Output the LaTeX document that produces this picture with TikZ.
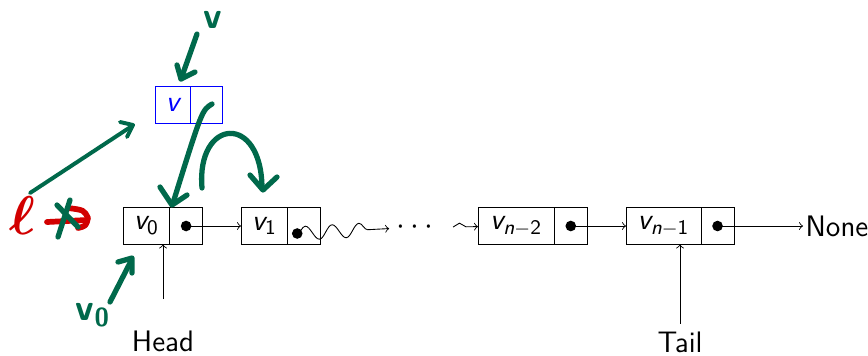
\documentclass[tikz,border=0pt]{standalone}
\usepackage{amsmath,amssymb}
\usetikzlibrary{positioning, decorations.pathmorphing}
\newcommand\cellv{\textsl{v}}
\definecolor{inkgreen}{RGB}{0,105,75}
\definecolor{inkred}{RGB}{210,0,0}
\tikzset{
  databox/.style={draw, minimum height=0.59cm, inner sep=0pt, outer sep=0pt, anchor=west},
  ptrbox/.style={draw, minimum height=0.59cm, minimum width=0.52cm, inner sep=0pt, outer sep=0pt},
  ptrdot/.style={circle, fill, inner sep=0pt, minimum size=0.17cm},
  ink/.style={draw=inkgreen, line width=2.4pt, line cap=round, line join=round},
  inklabel/.style={text=inkgreen, font=\fontsize{17}{17}\selectfont\sffamily\bfseries},
}

\begin{document}
\begin{tikzpicture}[x=0.016cm, y=-0.016cm, font=\fontsize{13.5}{16}\selectfont\sffamily]
  \useasboundingbox (0,0) rectangle (868,355);

  % the list
  \node[databox, minimum width=0.75cm] (v0) at (123,226) {$\cellv_{\textsf{0}}$};
  \node[ptrbox, right=0pt of v0] (p0) {};
  \node[ptrdot] (d0) at (p0) {};
  \node[databox, minimum width=0.75cm] (v1) at (241,226) {$\cellv_{\textsf{1}}$};
  \node[ptrbox, right=0pt of v1] (p1) {};
  \node[ptrdot] (d1) at ([xshift=-0.11cm, yshift=-0.12cm]p1.center) {};
  \node (dots) at (418,227) {$\cdots$};
  \node[databox, minimum width=1.22cm] (vn2) at (478,226) {$\cellv_{\textsl{n}-\textsf{2}}$};
  \node[ptrbox, minimum width=0.53cm, right=0pt of vn2] (p2) {};
  \node[ptrdot] (d2) at (p2) {};
  \node[databox, minimum width=1.2cm] (vn1) at (626,226) {$\cellv_{\textsl{n}-\textsf{1}}$};
  \node[ptrbox, minimum width=0.53cm, right=0pt of vn1] (p3) {};
  \node[ptrdot] (d3) at (p3) {};
  \node[anchor=west, inner sep=1pt] (none) at (803,226) {None};

  \draw[->] (d0.center) -- (v1);
  \draw[->, decorate, decoration={snake, amplitude=0.11cm, segment length=0.43cm, post length=1.5mm}] (d1.center) -- (dots);
  \draw[->, decorate, decoration={snake, amplitude=0.06cm, segment length=0.33cm, post length=1mm}] ([xshift=0.1cm]dots.east) -- (vn2);
  \draw[->] (d2.center) -- (vn1);
  \draw[->] (d3.center) -- (none);

  \node (head) at (163,341) {Head};
  \node (tail) at (680,342) {Tail};
  \draw[->] ([yshift=0.38cm]head.north) -- (head.north |- v0.south);
  \draw[->] (tail.north) -- (tail.north |- vn1.south);

  % new node
  \node[databox, draw=blue, text=blue, minimum width=0.56cm, minimum height=0.58cm] (vnew) at (155,105) {$\cellv$};
  \node[ptrbox, draw=blue, minimum height=0.58cm, right=0pt of vnew] (pnew) {};

  % ink
  \node[inklabel] (vink) at (213,20) {v};
  \draw[ink] (197,34) -- (181,79);
  \draw[ink] (177,65) -- (181,79) -- (195,72);

  \node[inklabel] (v0ink) at (93,315) {v\textsubscript{0}};
  \draw[ink] (110,302) -- (131,261);
  \draw[ink] (118,262) -- (132,258) -- (132,273);

  \node[text=inkred, font=\fontsize{26}{26}\selectfont] (ell) at (22,216) {$\boldsymbol{\ell}$};
  \draw[draw=inkred, line width=2.6pt, line cap=round, line join=round] (47,222) -- (87,220);
  \draw[draw=inkred, line width=2.6pt, line cap=round, line join=round] (68,208) .. controls (84,210) .. (88,218) .. controls (86,226) .. (78,228);
  \draw[ink] (57,205) -- (78,227);
  \draw[ink] (70,200) -- (58,237);

  \draw[ink, line width=1.8pt] (30,193) -- (132,126);
  \draw[ink, line width=1.8pt] (120,122) -- (133,125) -- (127,137);

  \draw[ink] (212,104) .. controls (202,110) .. (173,203);
  \draw[ink] (160,187) -- (172,205) -- (187,195);

  \draw[ink] (202,188) .. controls (196,118) and (262,112) .. (262,189);
  \draw[ink] (250,175) -- (263,190) -- (277,177);
\end{tikzpicture}
\end{document}
